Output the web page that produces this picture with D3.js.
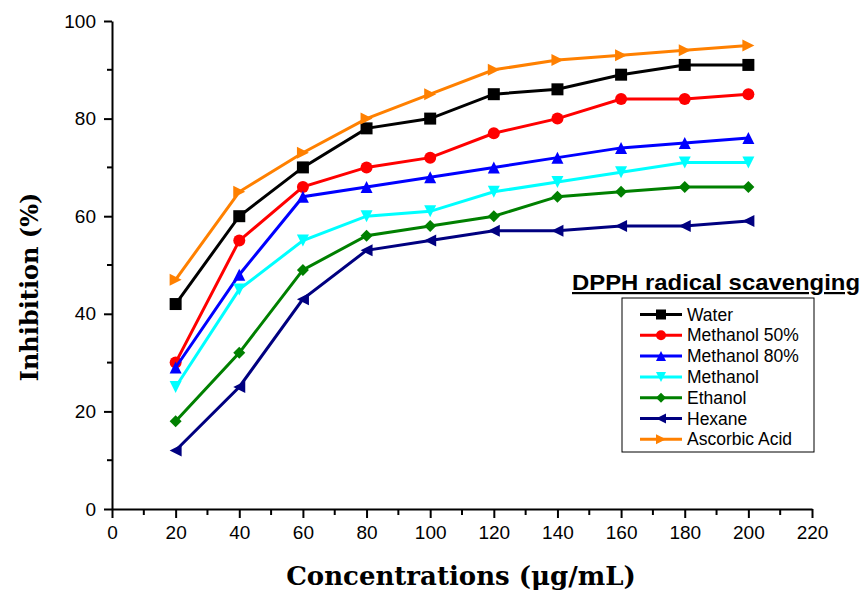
<!DOCTYPE html>
<html>
<head>
<meta charset="utf-8">
<script src="https://cdn.jsdelivr.net/npm/d3@7/dist/d3.min.js"></script>
<style>
  body { margin: 0; background: #fff; }
  svg { display: block; }
</style>
</head>
<body>
<div id="chart"></div>
<script>
(function () {
  'use strict';

  // ---- data
  var concentrations = [20, 40, 60, 80, 100, 120, 140, 160, 180, 200];
  var water        = [42, 60, 70, 78, 80, 85, 86, 89, 91, 91];
  var methanol50   = [30, 55, 66, 70, 72, 77, 80, 84, 84, 85];
  var methanol80   = [29, 48, 64, 66, 68, 70, 72, 74, 75, 76];
  var methanol     = [25, 45, 55, 60, 61, 65, 67, 69, 71, 71];
  var ethanol      = [18, 32, 49, 56, 58, 60, 64, 65, 66, 66];
  var hexane       = [12, 25, 43, 53, 55, 57, 57, 58, 58, 59];
  var ascorbicAcid = [47, 65, 73, 80, 85, 90, 92, 93, 94, 95];

  var seriesNames = ['Water', 'Methanol 50%', 'Methanol 80%', 'Methanol', 'Ethanol', 'Hexane', 'Ascorbic Acid'];
  var seriesValues = [water, methanol50, methanol80, methanol, ethanol, hexane, ascorbicAcid];
  var xTicks = [0, 20, 40, 60, 80, 100, 120, 140, 160, 180, 200, 220];
  var yTicks = [0, 20, 40, 60, 80, 100];

  var colors = ['#000000', '#ff0000', '#0000ff', '#00ffff', '#008000', '#000080', '#ff8000'];
  var shapes = ['square', 'circle', 'up', 'down', 'diamond', 'left', 'right'];

  var width = 861, height = 595;
  var x = d3.scaleLinear().domain([0, 220]).range([112, 812]);
  var y = d3.scaleLinear().domain([0, 100]).range([509, 21]);

  var svg = d3.select('#chart').append('svg')
    .attr('width', width)
    .attr('height', height);

  //---- marker path, centred on 0,0
  function markerPath(shape, s) {
    var h = s / 2;
    switch (shape) {
      case 'square':  return 'M' + (-h) + ',' + (-h) + 'h' + s + 'v' + s + 'h' + (-s) + 'Z';
      case 'circle':  return d3.symbol().type(d3.symbolCircle).size(Math.PI * h * h)();
      case 'up':      return 'M0,' + (-h) + 'L' + h + ',' + h + 'L' + (-h) + ',' + h + 'Z';
      case 'down':    return 'M0,' + h + 'L' + h + ',' + (-h) + 'L' + (-h) + ',' + (-h) + 'Z';
      case 'diamond': return 'M0,' + (-h) + 'L' + h + ',0L0,' + h + 'L' + (-h) + ',0Z';
      case 'left':    return 'M' + (-h) + ',0L' + h + ',' + (-h) + 'L' + h + ',' + h + 'Z';
      case 'right':   return 'M' + h + ',0L' + (-h) + ',' + (-h) + 'L' + (-h) + ',' + h + 'Z';
    }
  }

  //---- axes
  var xAxis = d3.axisBottom(x).tickValues(xTicks).tickSize(9).tickPadding(8).tickSizeOuter(0);
  var yAxis = d3.axisLeft(y).tickValues(yTicks).tickSize(8).tickPadding(8).tickSizeOuter(0);

  var gx = svg.append('g').attr('transform', 'translate(0,' + y(0) + ')').call(xAxis);
  var gy = svg.append('g').attr('transform', 'translate(' + x(0) + ',0)').call(yAxis);

  //---- minor ticks
  var xMinor = d3.range(10, 220, 20);
  var yMinor = d3.range(10, 100, 20);
  gx.selectAll('line.minor').data(xMinor).enter().append('line')
    .attr('class', 'minor')
    .attr('x1', function (d) { return x(d); }).attr('x2', function (d) { return x(d); })
    .attr('y1', 0).attr('y2', 6);
  gy.selectAll('line.minor').data(yMinor).enter().append('line')
    .attr('class', 'minor')
    .attr('y1', function (d) { return y(d); }).attr('y2', function (d) { return y(d); })
    .attr('x1', 0).attr('x2', -5);

  [gx, gy].forEach(function (g) {
    g.select('.domain').attr('stroke', '#000').attr('stroke-width', 2);
    g.selectAll('line').attr('stroke', '#000').attr('stroke-width', 2);
    g.selectAll('text')
      .attr('fill', '#000')
      .style('font-family', 'Arial, "Liberation Sans", sans-serif')
      .style('font-size', '19px');
  });

  //---- series
  var line = d3.line()
    .x(function (d, i) { return x(concentrations[i]); })
    .y(function (d) { return y(d); });

  seriesValues.forEach(function (vals, i) {
    var g = svg.append('g').attr('class', 'series');
    g.append('path')
      .attr('d', line(vals))
      .attr('fill', 'none')
      .attr('stroke', colors[i])
      .attr('stroke-width', 3);
    g.selectAll('path.mark').data(vals).enter().append('path')
      .attr('class', 'mark')
      .attr('transform', function (d, j) { return 'translate(' + x(concentrations[j]) + ',' + y(d) + ')'; })
      .attr('d', markerPath(shapes[i], 12))
      .attr('fill', colors[i]);
  });

  //---- axis titles
  svg.append('text')
    .attr('x', 461).attr('y', 585)
    .attr('text-anchor', 'middle')
    .style('font-family', '"DejaVu Serif", "Liberation Serif", serif')
    .style('font-weight', 'bold')
    .style('font-size', '26px')
    .text('Concentrations (μg/mL)');

  svg.append('text')
    .attr('transform', 'translate(38,287) rotate(-90)')
    .attr('text-anchor', 'middle')
    .style('font-family', '"DejaVu Serif", "Liberation Serif", serif')
    .style('font-weight', 'bold')
    .style('font-size', '24px')
    .text('Inhibition (%)');

  //---- legend
  svg.append('text')
    .attr('x', 572).attr('y', 290)
    .attr('textLength', 288)
    .attr('lengthAdjust', 'spacingAndGlyphs')
    .style('font-family', 'Arial, "Liberation Sans", sans-serif')
    .style('font-weight', 'bold')
    .style('font-size', '22px')
    .style('text-decoration', 'underline')
    .text('DPPH radical scavenging');

  svg.append('rect')
    .attr('x', 622).attr('y', 298)
    .attr('width', 192).attr('height', 154)
    .attr('fill', '#fff')
    .attr('stroke', '#000')
    .attr('stroke-width', 1);

  var legend = svg.selectAll('g.legend').data(seriesNames).enter().append('g')
    .attr('class', 'legend')
    .attr('transform', function (d, i) { return 'translate(0,' + (314.5 + i * 20.8) + ')'; });

  legend.append('line')
    .attr('x1', 640).attr('x2', 682)
    .attr('y1', 0).attr('y2', 0)
    .attr('stroke', function (d, i) { return colors[i]; })
    .attr('stroke-width', 3);
  legend.append('path')
    .attr('transform', 'translate(661,0)')
    .attr('d', function (d, i) { return markerPath(shapes[i], 10); })
    .attr('fill', function (d, i) { return colors[i]; });
  legend.append('text')
    .attr('x', 687).attr('y', 6)
    .style('font-family', 'Arial, "Liberation Sans", sans-serif')
    .style('font-size', '17.5px')
    .text(function (d) { return d; });
})();
</script>
</body>
</html>
